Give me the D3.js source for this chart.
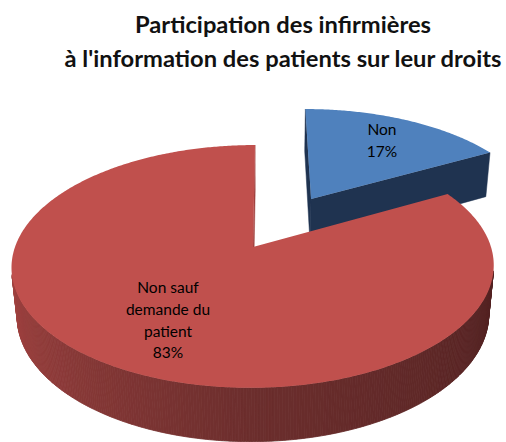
<!DOCTYPE html>
<html>
<head>
<meta charset="utf-8">
<script src="https://cdn.jsdelivr.net/npm/d3@7"></script>
<style>
  body { margin: 0; background: #fff; }
  text { font-family: Lato, "Open Sans", sans-serif; }
</style>
</head>
<body>
<div id="chart"></div>
<script>
const titleLines = ["Participation des infirmières", "à l'information des patients sur leur droits"];
const categories = ["Non", "Non sauf demande du patient"];
const values = [17, 83];
const labelLines = [["Non", "17%"], ["Non sauf", "demande du", "patient", "83%"]];
const topColors = ["#4F81BD", "#C0504D"];
const sideColors = ["#263D5E", "#8C3836"];
const explode = [120, 0];

const width = 506, height = 442;

let svg = d3.select('#chart')
    .append('svg')
    .attr('width', width)
    .attr('height', height);

// 3d view: pie lies in the plane z = 0, seen from the front and above
const R = 238;
const tilt = 29.8 * Math.PI / 180;
const focal = 1290;
const thick = 57;
const camX = 267.5, camU = 14.5, cy = 247;
const cam = [camU, -focal * Math.cos(tilt), focal * Math.sin(tilt)];

function project(p) {
    const d = p[1] * Math.cos(tilt) - p[2] * Math.sin(tilt);
    const s = focal / (focal + d);
    return [camX + (p[0] - camU) * s, cy - (p[1] * Math.sin(tilt) + p[2] * Math.cos(tilt)) * s];
}

function facing(p, n) {
    return (cam[0] - p[0]) * n[0] + (cam[1] - p[1]) * n[1] + (cam[2] - p[2]) * n[2] > 0;
}

const line = d3.line().curve(d3.curveLinearClosed);

// side shading of the outer wall, by angle (lighter on the left)
const redShade = d3.scaleLinear()
    .domain([Math.PI / 2, Math.PI, 1.5 * Math.PI])
    .range(['#4D1F1F', '#6C2E2D', '#A84442'])
    .clamp(true);
const blueShade = d3.scaleLinear()
    .domain([0, Math.PI])
    .range(['#263D5E', '#263D5E']);
const shades = [blueShade, redShade];

let pie = d3.pie().sort(null).value(d => d).startAngle(0).endAngle(2 * Math.PI);
let pieData = pie(values);

const g = svg.append('g');

pieData.forEach(function (d, i) {
    const mid = (d.startAngle + d.endAngle) / 2;
    const ou = explode[i] * Math.sin(mid), ov = explode[i] * Math.cos(mid);
    const pt = (a, r, z) => [ou + r * Math.sin(a), ov + r * Math.cos(a), z];
    const slice = g.append('g').attr('class', 'slice');

    // radial walls
    [[d.startAngle, [-Math.cos(d.startAngle), Math.sin(d.startAngle), 0]],
     [d.endAngle, [Math.cos(d.endAngle), -Math.sin(d.endAngle), 0]]].forEach(function (w) {
        const a = w[0];
        if (!facing(pt(a, R / 2, 0), w[1])) return;
        const quad = [pt(0, 0, 0), pt(a, R, 0), pt(a, R, -thick), pt(0, 0, -thick)].map(project);
        slice.append('path')
            .attr('d', line(quad))
            .attr('fill', i === 1 ? '#A0403E' : '#1F3350')
            .attr('stroke', i === 1 ? '#A0403E' : '#1F3350')
            .attr('stroke-width', 0.5);
    });

    // outer wall
    const steps = Math.ceil((d.endAngle - d.startAngle) / 0.01);
    const da = (d.endAngle - d.startAngle) / steps;
    for (let k = 0; k < steps; k++) {
        const a0 = d.startAngle + k * da, a1 = a0 + da, am = a0 + da / 2;
        if (!facing(pt(am, R, -thick / 2), [Math.sin(am), Math.cos(am), 0])) continue;
        const quad = [pt(a0, R, 0), pt(a1, R, 0), pt(a1, R, -thick), pt(a0, R, -thick)].map(project);
        const c = shades[i](am);
        slice.append('path')
            .attr('d', line(quad))
            .attr('fill', c)
            .attr('stroke', c)
            .attr('stroke-width', 0.8);
    }

    // top face
    const topPts = [pt(0, 0, 0)];
    for (let k = 0; k <= steps; k++) topPts.push(pt(d.startAngle + k * da, R, 0));
    slice.append('path')
        .attr('d', line(topPts.map(project)))
        .attr('fill', topColors[i]);
});

// data labels
const labelPos = [[382, 135], [168, 293]];
pieData.forEach(function (d, i) {
    const t = svg.append('text')
        .attr('text-anchor', 'middle')
        .attr('font-size', 15.5)
        .attr('fill', '#000');
    labelLines[i].forEach(function (s, j) {
        t.append('tspan')
            .attr('x', labelPos[i][0])
            .attr('y', labelPos[i][1] + j * 21.8)
            .text(s);
    });
});

// title
const title = svg.append('g')
    .attr('font-weight', 'bold')
    .attr('fill', '#111')
    .attr('text-anchor', 'middle');
titleLines.forEach(function (s, j) {
    title.append('text')
        .attr('x', 283)
        .attr('y', 33 + j * 34)
        .attr('font-size', 22)
        .text(s);
});
// fit the long line to the reference width
const w2 = title.selectAll('text').nodes()[1].getComputedTextLength();
title.selectAll('text').attr('font-size', 22 * 437 / w2);
</script>
</body>
</html>
